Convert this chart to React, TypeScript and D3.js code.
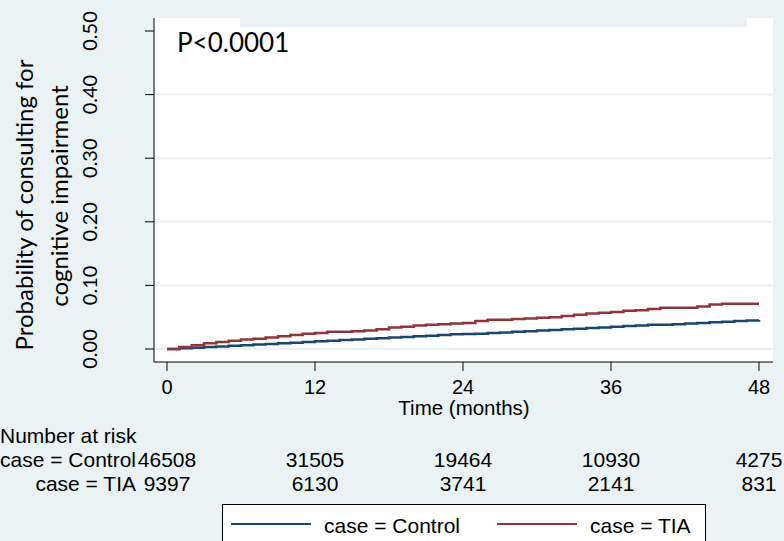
import * as d3 from 'd3'

// Kaplan-Meier failure curves (months, cumulative probability)
const months = [
  0, 1, 2, 3, 4, 5, 6, 7, 8, 9, 10, 11, 12, 13, 14, 15, 16, 17, 18, 19, 20, 21, 22, 23, 24,
  25, 26, 27, 28, 29, 30, 31, 32, 33, 34, 35, 36, 37, 38, 39, 40, 41, 42, 43, 44, 45, 46, 47, 48,
]
const controlProb = [
  0, 0.001, 0.002, 0.003, 0.004, 0.005, 0.006, 0.007, 0.008, 0.009, 0.010, 0.011, 0.012,
  0.013, 0.014, 0.015, 0.016, 0.017, 0.018, 0.019, 0.020, 0.021, 0.022, 0.023, 0.0235,
  0.024, 0.025, 0.026, 0.027, 0.028, 0.029, 0.030, 0.031, 0.032, 0.033, 0.034, 0.035,
  0.036, 0.037, 0.038, 0.038, 0.039, 0.040, 0.041, 0.042, 0.043, 0.044, 0.045, 0.0456,
]
const tiaProb = [
  0, 0.003, 0.006, 0.009, 0.011, 0.013, 0.015, 0.016, 0.018, 0.02, 0.022, 0.024, 0.025,
  0.027, 0.027, 0.028, 0.029, 0.031, 0.034, 0.035, 0.037, 0.038, 0.039, 0.04, 0.041,
  0.044, 0.046, 0.046, 0.047, 0.048, 0.049, 0.05, 0.052, 0.054, 0.056, 0.057, 0.058,
  0.06, 0.061, 0.063, 0.065, 0.065, 0.065, 0.067, 0.070, 0.071, 0.071, 0.071, 0.071,
]

const xTicks = [0, 12, 24, 36, 48]
const yTicks = [0, 0.1, 0.2, 0.3, 0.4, 0.5]
const riskControl = ['46508', '31505', '19464', '10930', '4275']
const riskTia = ['9397', '6130', '3741', '2141', '831']

const BG = '#eaf2f3'
const NAVY = '#1a476f'
const MAROON = '#90353b'
const ARIAL = '"Liberation Sans", Arial, sans-serif'
const CAL = 'Lato, "Open Sans", sans-serif'

export default function App() {
  const width = 784
  const height = 541
  const plot = { left: 154, right: 773, top: 18, bottom: 362 }

  const x = d3.scaleLinear().domain([0, 48]).range([167, 759])
  const y = d3.scaleLinear().domain([0, 0.5]).range([349, 31])

  const line = d3
    .line<number>()
    .x((_, i) => x(months[i]))
    .y(d => y(d))
    .curve(d3.curveStepAfter)

  return (
    <svg
      width={width}
      height={height}
      style={{ position: 'absolute', left: 0, top: 0, display: 'block' }}
    >
      <rect width={width} height={height} fill={BG} />
      <rect
        x={plot.left}
        y={plot.top}
        width={plot.right - plot.left}
        height={plot.bottom - plot.top}
        fill="#fff"
      />
      {/* strip covering the top of the plot area */}
      <rect x={240} y={0} width={507} height={27} fill={BG} />

      {yTicks.slice(0, -1).map(t => (
        <line
          key={'g' + t}
          x1={plot.left}
          x2={plot.right}
          y1={y(t)}
          y2={y(t)}
          stroke={BG}
          strokeWidth={2}
        />
      ))}

      <path d={line(controlProb) ?? ''} fill="none" stroke={NAVY} strokeWidth={2.5} />
      <path d={line(tiaProb) ?? ''} fill="none" stroke={MAROON} strokeWidth={2.5} />

      {/* axes */}
      <line x1={plot.left} x2={plot.left} y1={plot.top} y2={plot.bottom} stroke="#000" />
      <line x1={plot.left} x2={plot.right} y1={plot.bottom} y2={plot.bottom} stroke="#000" />

      {yTicks.map(t => (
        <g key={'y' + t}>
          <line x1={plot.left - 9} x2={plot.left} y1={y(t)} y2={y(t)} stroke="#000" />
          <text
            transform={`translate(97,${y(t)}) rotate(-90)`}
            textAnchor="middle"
            fontFamily={CAL}
            fontSize={20}
          >
            {t.toFixed(2)}
          </text>
        </g>
      ))}
      <text
        transform="translate(33,205) rotate(-90)"
        textAnchor="middle"
        fontFamily={CAL}
        fontSize={24}
      >
        Probability of consulting for
      </text>
      <text
        transform="translate(68,196) rotate(-90)"
        textAnchor="middle"
        fontFamily={CAL}
        fontSize={24}
      >
        cognitive impairment
      </text>

      {xTicks.map(t => (
        <g key={'x' + t}>
          <line x1={x(t)} x2={x(t)} y1={plot.bottom} y2={plot.bottom + 9} stroke="#000" />
          <text x={x(t)} y={394} textAnchor="middle" fontFamily={ARIAL} fontSize={20}>
            {t}
          </text>
        </g>
      ))}
      <text x={464} y={415} textAnchor="middle" fontFamily={ARIAL} fontSize={20.5}>
        Time (months)
      </text>

      <text x={177} y={52} fontFamily={CAL} fontSize={26}>
        P&lt;0.0001
      </text>

      {/* number at risk table */}
      <text x={0} y={443} fontFamily={ARIAL} fontSize={21}>
        Number at risk
      </text>
      <text x={136} y={467} textAnchor="end" fontFamily={ARIAL} fontSize={21}>
        case = Control
      </text>
      <text x={136} y={491} textAnchor="end" fontFamily={ARIAL} fontSize={21}>
        case = TIA
      </text>
      {xTicks.map((t, i) => (
        <g key={'r' + t}>
          <text x={x(t)} y={467} textAnchor="middle" fontFamily={ARIAL} fontSize={21}>
            {riskControl[i]}
          </text>
          <text x={x(t)} y={491} textAnchor="middle" fontFamily={ARIAL} fontSize={21}>
            {riskTia[i]}
          </text>
        </g>
      ))}

      {/* legend */}
      <rect x={222.5} y={504.5} width={483} height={60} fill="#fff" stroke="#000" />
      <line x1={231} x2={311} y1={524} y2={524} stroke={NAVY} strokeWidth={2} />
      <text x={324} y={533} fontFamily={ARIAL} fontSize={21}>
        case = Control
      </text>
      <line x1={497} x2={577} y1={524} y2={524} stroke={MAROON} strokeWidth={2} />
      <text x={590} y={533} fontFamily={ARIAL} fontSize={21}>
        case = TIA
      </text>
    </svg>
  )
}
